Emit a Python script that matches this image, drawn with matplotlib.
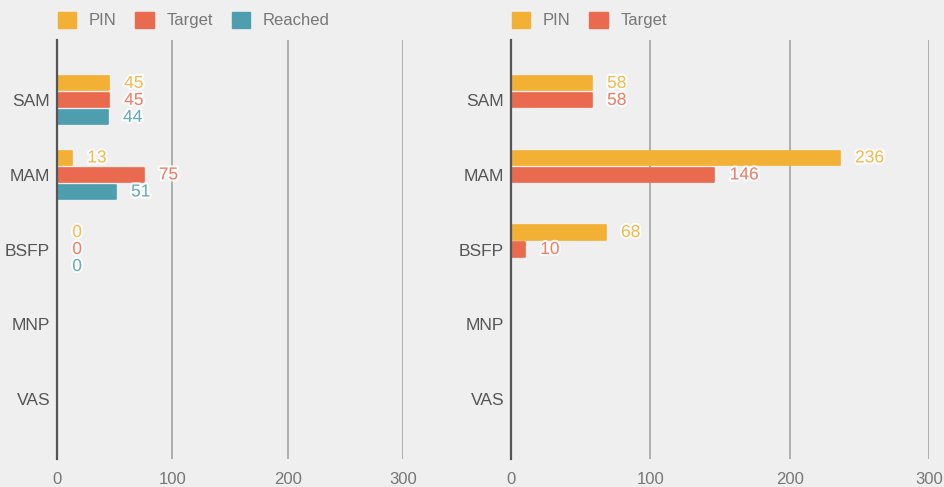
import numpy as np
import matplotlib
matplotlib.use('Agg')
from matplotlib import pyplot as plt
from matplotlib.patches import Patch
import matplotlib.patheffects as pe

categories = ['SAM', 'MAM', 'BSFP', 'MNP', 'VAS']

# left chart
left_pin = [45, 13, 0, None, None]
left_target = [45, 75, 0, None, None]
left_reached = [44, 51, 0, None, None]

# right chart
right_pin = [58, 236, 68, None, None]
right_target = [58, 146, 10, None, None]

ticks = [0, 100, 200, 300]

yellow = '#F2B134'
red = '#EA6A4F'
teal = '#4E9EAF'
bg = '#EFEFEF'

plt.rcParams['font.family'] = ['Liberation Sans', 'DejaVu Sans']

fig = plt.figure(figsize=(9.45, 4.87), dpi=100, facecolor=bg)
ax1 = fig.add_axes([57/945, 1-459/487, 346/945, 419/487])
ax2 = fig.add_axes([511/945, 1-459/487, 418/945, 419/487])

y = np.arange(len(categories))
off = 0.228
h = 0.19


def draw(ax, series, names, colors, axw):
    ax.set_facecolor(bg)
    for i, (vals, col) in enumerate(zip(series, colors)):
        pos = y + (i - 1) * off
        for p, v in zip(pos, vals):
            if v is None:
                continue
            ax.barh(p, v, height=h, color=col, edgecolor=col, linewidth=1.2,
                    joinstyle='round', zorder=3)
            ax.annotate(str(v), (v, p), xytext=(11, 0), textcoords='offset points',
                        va='center', ha='left', fontsize=12.5, color=col, alpha=0.85,
                        path_effects=[pe.withStroke(linewidth=3, foreground='white')],
                        zorder=4)
    ax.set_xlim(0, 300)
    ax.set_ylim(4.81, -0.81)
    ax.set_xticks(ticks)
    ax.set_yticks(y)
    ax.set_yticklabels(categories)
    ax.tick_params(axis='x', length=0, pad=9, labelsize=12, labelcolor='#777777')
    ax.tick_params(axis='y', length=0, pad=5, labelsize=12.5, labelcolor='#555555')
    ax.grid(axis='x', color='#AAAAAA', linewidth=1.3, zorder=0)
    for s in ['top', 'right', 'bottom']:
        ax.spines[s].set_visible(False)
    ax.spines['left'].set_color('#555555')
    ax.spines['left'].set_linewidth(1.6)
    ax.spines['left'].set_zorder(5)
    handles = [Patch(facecolor=c, edgecolor=c) for c in colors]
    ax.legend(handles, names, loc='lower left', bbox_to_anchor=(-11/axw, 1.0), ncol=len(names),
              frameon=False, fontsize=12, handlelength=1.1, handleheight=1.1,
              handletextpad=0.75, columnspacing=1.15, borderaxespad=0.7, borderpad=0,
              labelcolor='#777777')


draw(ax1, [left_pin, left_target, left_reached], ['PIN', 'Target', 'Reached'], [yellow, red, teal], 346)
draw(ax2, [right_pin, right_target], ['PIN', 'Target'], [yellow, red], 418)

fig.savefig('out.png', dpi=100, facecolor=bg)
